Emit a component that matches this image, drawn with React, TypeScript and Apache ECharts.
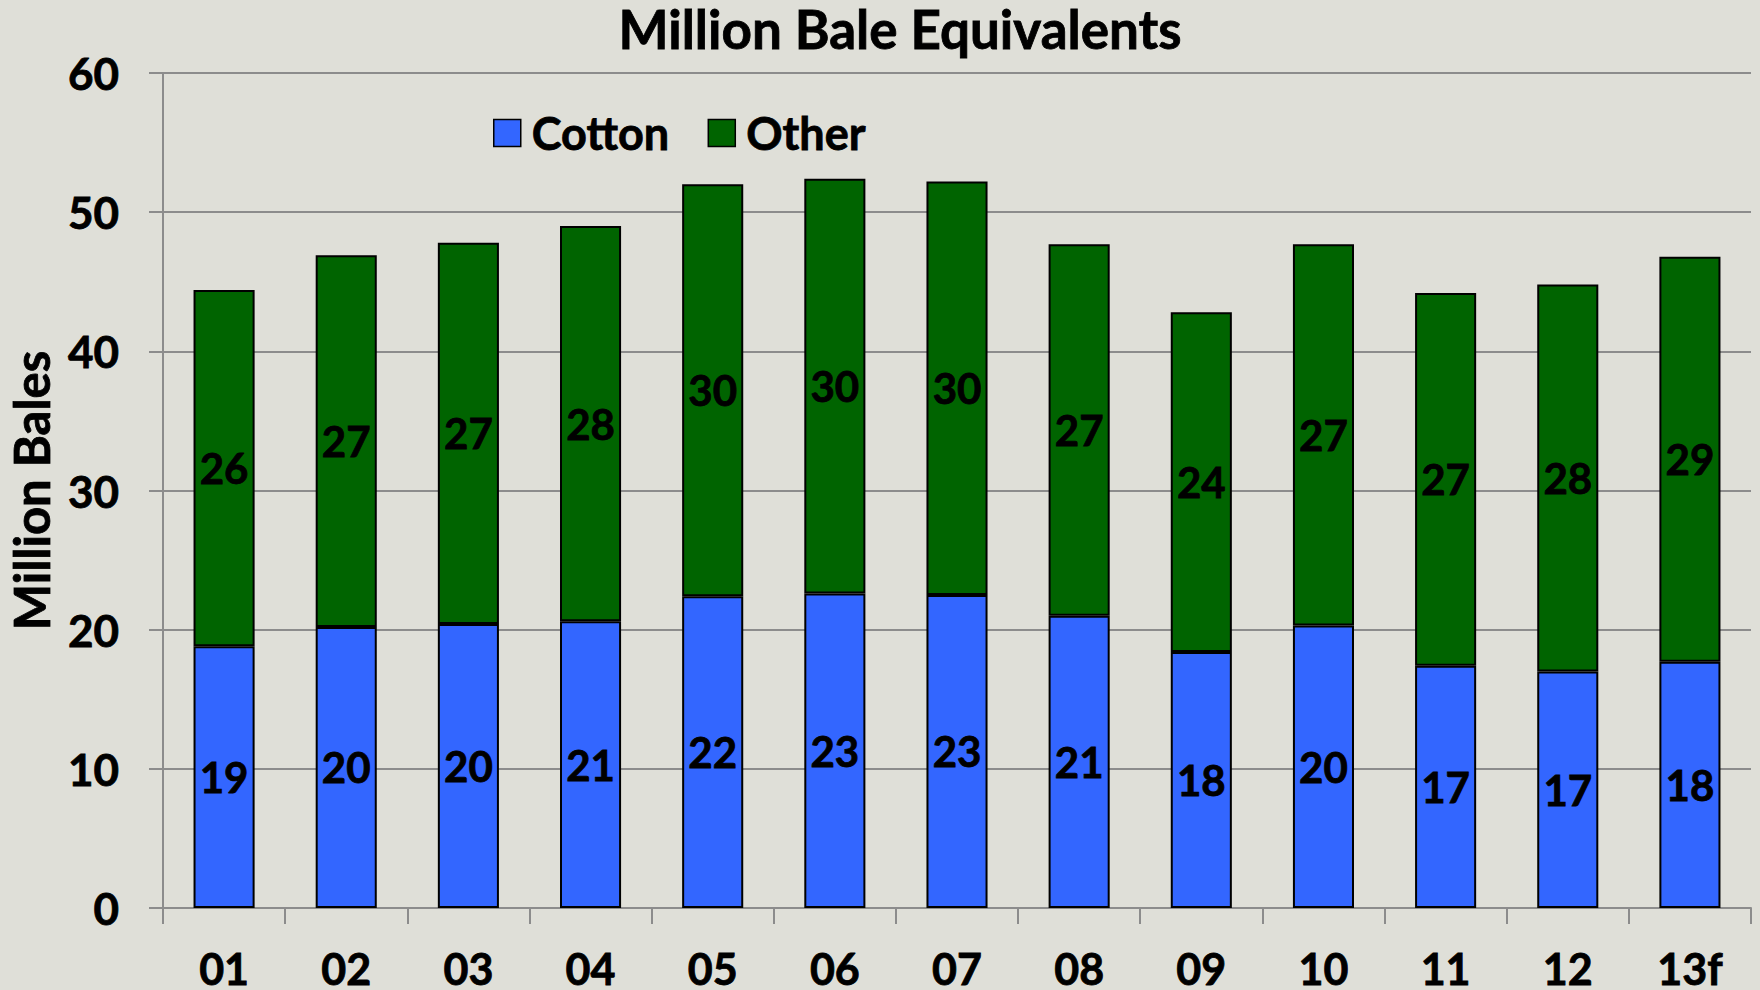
import React, { useEffect, useRef } from "react";
import * as echarts from "echarts";

const categories = ["01", "02", "03", "04", "05", "06", "07", "08", "09", "10", "11", "12", "13f"];
const cotton = [18.8, 20.2, 20.4, 20.6, 22.4, 22.6, 22.5, 21.0, 18.4, 20.3, 17.4, 17.0, 17.7];
const other = [25.6, 26.7, 27.4, 28.4, 29.6, 29.8, 29.7, 26.7, 24.4, 27.4, 26.8, 27.8, 29.1];
const yTicks = { min: 0, max: 60, interval: 10 };

const FONT = "Lato";
const BG = "#dfdfd8";
const bold = { textBorderColor: "#000", textBorderWidth: 0.8 };

export default function App() {
  const ref = useRef<HTMLDivElement>(null);
  useEffect(() => {
    if (!ref.current) return;
    const chart = echarts.init(ref.current, null, { renderer: "svg" });
    const labelStyle = {
      show: true,
      position: "inside",
      color: "#000",
      fontFamily: FONT,
      fontWeight: "bold",
      fontSize: 42,
      ...bold,
      formatter: (p: any) => String(Math.round(p.value)),
    };
    chart.setOption({
      animation: false,
      backgroundColor: BG,
      textStyle: { fontFamily: FONT },
      graphic: [
        {
          type: "text",
          x: 900,
          y: 28,
          style: {
            text: "Million Bale Equivalents",
            fontFamily: FONT,
            fontWeight: "bold",
            fontSize: 53,
            lineHeight: 54,
            fill: "#000",
            stroke: "#000",
            lineWidth: 0.8,
            textAlign: "center",
            textVerticalAlign: "middle",
          },
        },
      ],
      legend: {
        left: 493,
        top: 110,
        padding: 0,
        itemWidth: 27,
        itemHeight: 27,
        itemGap: 38,
        icon: "rect",
        itemStyle: { borderColor: "#000", borderWidth: 1.5 },
        textStyle: {
          fontFamily: FONT,
          fontWeight: "bold",
          fontSize: 45,
          color: "#000",
          ...bold,
          padding: [0, 0, 0, 6],
        },
        data: ["Cotton", "Other"],
      },
      grid: { left: 163, right: 9, top: 73, bottom: 82, containLabel: false, outerBoundsMode: "none" },
      xAxis: {
        type: "category",
        data: categories,
        boundaryGap: true,
        axisLine: { lineStyle: { color: "#8c8c8c", width: 2 } },
        axisTick: { show: true, length: 16, lineStyle: { color: "#8c8c8c", width: 2 } },
        axisLabel: {
          color: "#000",
          fontFamily: FONT,
          fontWeight: "bold",
          fontSize: 43,
          lineHeight: 36,
          ...bold,
          margin: 42,
        },
      },
      yAxis: {
        type: "value",
        min: yTicks.min,
        max: yTicks.max,
        interval: yTicks.interval,
        name: "Million Bales",
        nameLocation: "middle",
        nameGap: 108,
        nameTextStyle: {
          color: "#000",
          fontFamily: FONT,
          fontWeight: "bold",
          fontSize: 49,
          ...bold,
        },
        axisLine: { show: true, lineStyle: { color: "#8c8c8c", width: 2 } },
        axisTick: { show: true, length: 14, lineStyle: { color: "#8c8c8c", width: 2 } },
        splitLine: { show: true, lineStyle: { color: "#8c8c8c", width: 2 } },
        axisLabel: {
          color: "#000",
          fontFamily: FONT,
          fontWeight: "bold",
          fontSize: 44,
          ...bold,
          margin: 44,
        },
      },
      series: [
        {
          name: "Cotton",
          type: "bar",
          stack: "total",
          data: cotton,
          barWidth: "50%",
          itemStyle: { color: "#3366ff", borderColor: "#000", borderWidth: 2 },
          label: labelStyle,
        },
        {
          name: "Other",
          type: "bar",
          stack: "total",
          data: other,
          barWidth: "50%",
          itemStyle: { color: "#006400", borderColor: "#000", borderWidth: 2 },
          label: labelStyle,
        },
      ],
    });
    return () => chart.dispose();
  }, []);
  return (
    <div
      ref={ref}
      style={{ position: "fixed", left: 0, top: 0, width: 1760, height: 990, background: BG }}
    />
  );
}
